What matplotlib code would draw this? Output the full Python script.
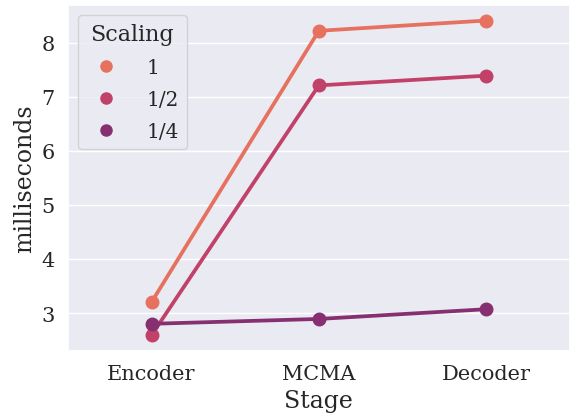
import matplotlib
matplotlib.use("Agg")
import matplotlib.pyplot as plt
from matplotlib.lines import Line2D
import seaborn as sns
import pandas as pd

stages = ["Encoder", "MCMA", "Decoder"]
scalings = ["1", "1/2", "1/4"]
ms_full = [3.20, 8.22, 8.41]
ms_half = [2.59, 7.21, 7.39]
ms_quarter = [2.80, 2.89, 3.07]

rows = []
for s, vals in zip(scalings, [ms_full, ms_half, ms_quarter]):
    for st, v in zip(stages, vals):
        rows.append({"Stage": st, "milliseconds": v, "Scaling": s})
df = pd.DataFrame(rows)

sns.set_theme(style="darkgrid", font="DejaVu Serif", font_scale=1.35)
plt.rcParams["xtick.labelsize"] = 15
plt.rcParams["ytick.labelsize"] = 15
plt.rcParams["axes.labelsize"] = 17
colors = sns.color_palette("flare", 3)
fig, ax = plt.subplots(figsize=(5.75, 4.14), dpi=100)
sns.pointplot(data=df, x="Stage", y="milliseconds", hue="Scaling",
              palette=colors, ax=ax, markersize=8, linewidth=2.7)
handles = [Line2D([], [], marker="o", linestyle="", color=c, markersize=8)
           for c in colors]
ax.legend(handles, scalings, title="Scaling", loc="upper left",
          fontsize=14.5, title_fontsize=16, handletextpad=1.0,
          labelspacing=0.65, borderaxespad=0.5)
fig.subplots_adjust(left=0.118, right=0.991, top=0.986, bottom=0.150)
fig.savefig("out.png", dpi=100)
